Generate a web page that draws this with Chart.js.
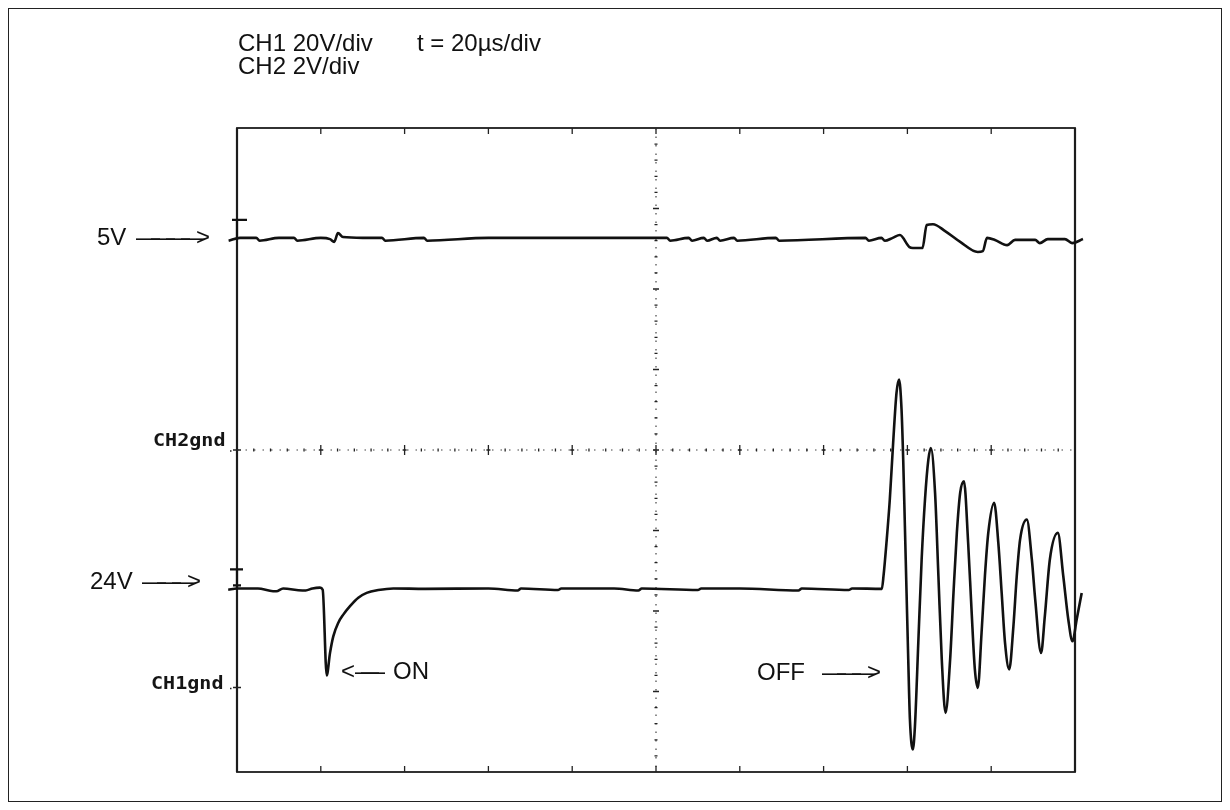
<!DOCTYPE html>
<html>
<head>
<meta charset="utf-8">
<script src="https://cdn.jsdelivr.net/npm/chart.js@4.4.1/dist/chart.umd.min.js"></script>
<style>
  html, body { margin: 0; padding: 0; background: #fff; }
  body { width: 1230px; height: 810px; position: relative; overflow: hidden;
         font-family: Arial, "Liberation Sans", sans-serif; color: #111; }
  #frame { position: absolute; left: 8px; top: 8px; width: 1212px; height: 792px;
           border: 1.5px solid #222; pointer-events: none; }
  #scope { position: absolute; left: 0; top: 0; }
  .lbl { position: absolute; font-size: 24px; line-height: 24px; white-space: pre; }
  .arrow { letter-spacing: -9px; }
  .gnd { position: absolute; font-family: "DejaVu Sans Mono", monospace; font-weight: bold;
         font-size: 17px; line-height: 17px; transform-origin: left top; transform: scaleX(1.18);
         white-space: pre; color: #151515; }
</style>
</head>
<body>
<canvas id="scope" width="1230" height="810"></canvas>
<div id="frame"></div>

<div class="lbl" style="left:238px; top:31px;">CH1 20V/div</div>
<div class="lbl" style="left:417px; top:31px;">t = 20µs/div</div>
<div class="lbl" style="left:238px; top:54px;">CH2 2V/div</div>

<div class="lbl" style="left:97px; top:225px;">5V</div>
<div class="lbl arrow" style="left:136px; top:225px;">————&gt;</div>
<div class="lbl" style="left:90px; top:569px;">24V</div>
<div class="lbl arrow" style="left:142px; top:569px;">———&gt;</div>

<div class="lbl" style="left:341px; top:659px;">&lt;</div>
<div class="lbl" style="left:355px; top:659px; letter-spacing:-18px;">——</div>
<div class="lbl" style="left:393px; top:659px;">ON</div>
<div class="lbl" style="left:757px; top:660px;">OFF</div>
<div class="lbl arrow" style="left:822px; top:660px;">———&gt;</div>

<div class="gnd" style="left:153px; top:432px;">CH2gnd</div>
<div class="gnd" style="left:151px; top:675px;">CH1gnd</div>

<script>
'use strict';

// ── Timebase: 20 µs/div, 10 divisions ──
const X_MIN = 0;
const X_MAX = 200;
const X_DIV = 20;

// CH1: 20 V/div, ground 2.95 div below screen centre
const CH1_MIN = -21;
const CH1_MAX = 139;
// CH2: 2 V/div, ground on screen centre
const CH2_MIN = -8;
const CH2_MAX = 8;

// CH1 (24 V supply) — time in µs, volts
const ch1Time = [
  -2.1, 0, 5, 8.6, 9.4, 11, 15.6, 16.4, 18, 19.8, 20.45, 21.41, 22.2, 22.98,
  24.18, 25.37, 26.97, 28.95, 30.95, 33.72, 37.3, 44.9, 60, 67.0, 67.8, 76.6,
  77.4, 90, 95.8, 96.6, 110, 110.8, 120, 134.0, 134.8, 146.0, 146.8, 153.9,
  154.3, 155.0, 155.8, 156.6, 157.4, 158.0, 158.6, 159.0, 159.4, 159.8, 160.2,
  160.6, 161.3, 161.8, 162.6, 163.4, 164.2, 165.0, 165.6, 166.6, 167.4, 168.2,
  169.1, 170.2, 171.0, 171.8, 172.6, 173.5, 174.5, 175.3, 176.1, 176.8, 177.7,
  178.5, 179.3, 180.7, 181.7, 182.5, 183.3, 184.3, 185.3, 186.1, 186.9, 188.5,
  189.7, 190.5, 191.9, 192.8, 194.0, 195.9, 197.2, 198.4, 199.4, 200.4, 201.6,
];
const ch1Volts = [
  24.3, 24.6, 24.6, 23.9, 23.9, 24.6, 24.1, 24.1, 24.6, 24.8, 24.3, 3.0, 8.6, 12.7,
  16.1, 18.1, 20.2, 22.3, 23.5, 24.2, 24.6, 24.5, 24.6, 24.1, 24.6, 24.2,
  24.6, 24.6, 24.1, 24.6, 24.2, 24.6, 24.6, 24.1, 24.6, 24.2, 24.6, 24.5,
  27.7, 35.9, 46.7, 60.8, 73.2, 76.5, 69.1, 56.6, 40.1, 23.5, 7.0,
  -7.9, -15.4, -9.6, 11.1, 31.8, 46.7, 56.6, 59.5, 48.4, 27.7, 7.0,
  -6.3, 7.0, 23.5, 38.4, 48.4, 51.2, 35.9, 19.4, 4.5, -0.1, 13.6,
  27.7, 38.4, 45.9, 35.9, 23.5, 11.1, 4.5, 15.2, 27.7, 36.8, 41.7,
  31.8, 21.9, 8.6, 17.7, 31.8, 38.4, 27.7, 16.9, 11.5, 16.9, 23.5,
];

// CH2 (5 V logic supply) — time in µs, volts
const ch2Time = [
  -2.0, 0.7, 4.6, 5.4, 10, 13.6, 14.4, 20, 22.2, 23.2, 24.1, 25.3, 30,
  34.6, 35.4, 44.6, 45.4, 60, 102.6, 103.4, 107.8, 108.6, 111.4, 112.2,
  114.5, 115.3, 118.6, 119.4, 128.6, 129.4, 150.0, 150.8, 153.8, 154.6,
  156.5, 158.2, 160.5, 161.3, 163.6, 164.6, 166.1, 169.0, 172.6, 176.8,
  178.0, 179.0, 180.9, 183.8, 185.7, 190.5, 191.6, 193.5, 197.6, 199.3, 201.9,
];
const ch2Volts = [
  5.2, 5.27, 5.27, 5.2, 5.27, 5.27, 5.2, 5.27, 5.24, 5.17, 5.39, 5.29, 5.27,
  5.27, 5.2, 5.27, 5.2, 5.27, 5.27, 5.2, 5.27, 5.2, 5.27, 5.2,
  5.27, 5.2, 5.27, 5.2, 5.27, 5.2, 5.27, 5.2, 5.27, 5.2,
  5.27, 5.34, 5.04, 5.02, 5.02, 5.59, 5.61, 5.44, 5.17, 4.92,
  4.94, 5.27, 5.22, 5.09, 5.22, 5.22, 5.14, 5.24, 5.24, 5.14, 5.24,
];

const toPoints = (xs, ys) => xs.map((x, i) => ({ x, y: ys[i] }));

// fix the screen window without marking it as user bounds, so the trace
// samples just past the screen edges are still drawn
const fixRange = (lo, hi) => scale => { scale.min = lo; scale.max = hi; };

// ── Graticule, level markers and ground marks, drawn through the scales ──
const graticule = {
  id: 'graticule',
  beforeDatasetsDraw(chart) {
    const { ctx, chartArea: a, scales } = chart;
    const x = scales.x, y1 = scales.y1, y2 = scales.y2;
    const xc = x.getPixelForValue((X_MIN + X_MAX) / 2);
    const yc = y2.getPixelForValue(0);

    ctx.save();
    ctx.strokeStyle = '#1c1c1c';
    ctx.lineCap = 'butt';

    // outer graticule box
    ctx.lineWidth = 1.8;
    ctx.strokeRect(a.left, a.top, a.right - a.left, a.bottom - a.top);
    ctx.lineWidth = 2.2;
    ctx.beginPath();
    ctx.moveTo(a.left, a.top); ctx.lineTo(a.left, a.bottom);
    ctx.moveTo(a.right, a.top); ctx.lineTo(a.right, a.bottom);
    ctx.stroke();

    // dotted centre cross
    ctx.lineWidth = 1.2;
    ctx.strokeStyle = '#444';
    ctx.setLineDash([1.5, 7]);
    ctx.beginPath();
    ctx.moveTo(xc, a.top); ctx.lineTo(xc, a.bottom);
    ctx.moveTo(a.left, yc); ctx.lineTo(a.right, yc);
    ctx.stroke();
    ctx.setLineDash([]);

    // sub-division marks on the centre lines
    ctx.strokeStyle = '#222';
    ctx.lineWidth = 1.3;
    ctx.beginPath();
    for (let t = X_MIN + X_DIV / 5; t < X_MAX; t += X_DIV / 5) {
      const px = x.getPixelForValue(t);
      const major = Math.abs(Math.round(t / X_DIV) * X_DIV - t) < 1e-6;
      const h = major ? 5 : 1.5;
      ctx.moveTo(px, yc - h); ctx.lineTo(px, yc + h);
      if (major) { ctx.moveTo(px - 2, yc); ctx.lineTo(px + 2, yc); }
    }
    for (let v = CH2_MIN + 0.4; v < CH2_MAX; v += 0.4) {
      const py = y2.getPixelForValue(v);
      const major = Math.abs(Math.round(v / 2) * 2 - v) < 1e-6;
      const w = major ? 3 : 1.5;
      ctx.moveTo(xc - w, py); ctx.lineTo(xc + w, py);
    }
    // division ticks on top and bottom edges
    for (let t = X_MIN + X_DIV; t < X_MAX; t += X_DIV) {
      const px = x.getPixelForValue(t);
      ctx.moveTo(px, a.top); ctx.lineTo(px, a.top + 6);
      ctx.moveTo(px, a.bottom); ctx.lineTo(px, a.bottom - 6);
    }
    ctx.stroke();

    // ground marks on the left edge
    ctx.lineWidth = 1.4;
    ctx.beginPath();
    [y2.getPixelForValue(0), y1.getPixelForValue(0)].forEach(py => {
      ctx.moveTo(a.left - 4, py); ctx.lineTo(a.left + 4, py);
      ctx.moveTo(a.left - 7, py + 1); ctx.lineTo(a.left - 5.5, py + 1);
    });
    ctx.stroke();

    // trace level markers
    ctx.lineWidth = 2.2;
    ctx.strokeStyle = '#111';
    const p2 = y2.getPixelForValue(ch2Volts[1]);
    const p1 = y1.getPixelForValue(ch1Volts[1]);
    ctx.beginPath();
    ctx.moveTo(a.left - 5, p2 - 18); ctx.lineTo(a.left + 10, p2 - 18);
    ctx.moveTo(a.left, p2 - 18); ctx.lineTo(a.left, p2);
    ctx.moveTo(a.left - 7, p1 - 19); ctx.lineTo(a.left + 6, p1 - 19);
    ctx.moveTo(a.left, p1 - 19); ctx.lineTo(a.left, p1);
    ctx.moveTo(a.left - 4, p1 - 3); ctx.lineTo(a.left + 4, p1 - 3);
    ctx.stroke();

    ctx.restore();
  },
};

new Chart(document.getElementById('scope'), {
  type: 'line',
  data: {
    datasets: [
      {
        label: 'CH1',
        data: toPoints(ch1Time, ch1Volts),
        yAxisID: 'y1',
        borderColor: '#111',
        borderWidth: 2.6,
        clip: false,
      },
      {
        label: 'CH2',
        data: toPoints(ch2Time, ch2Volts),
        yAxisID: 'y2',
        borderColor: '#111',
        borderWidth: 2.6,
        clip: false,
      },
    ],
  },
  options: {
    responsive: false,
    animation: false,
    devicePixelRatio: 1,
    layout: { padding: { left: 237, top: 128, right: 155, bottom: 38 } },
    elements: {
      point: { radius: 0 },
      line: { cubicInterpolationMode: 'monotone' },
    },
    plugins: { legend: { display: false }, tooltip: { enabled: false } },
    scales: {
      x:  { type: 'linear', display: false, bounds: 'data', afterDataLimits: fixRange(X_MIN, X_MAX) },
      y1: { type: 'linear', display: false, min: CH1_MIN, max: CH1_MAX },
      y2: { type: 'linear', display: false, min: CH2_MIN, max: CH2_MAX },
    },
  },
  plugins: [graticule],
});
</script>
</body>
</html>
